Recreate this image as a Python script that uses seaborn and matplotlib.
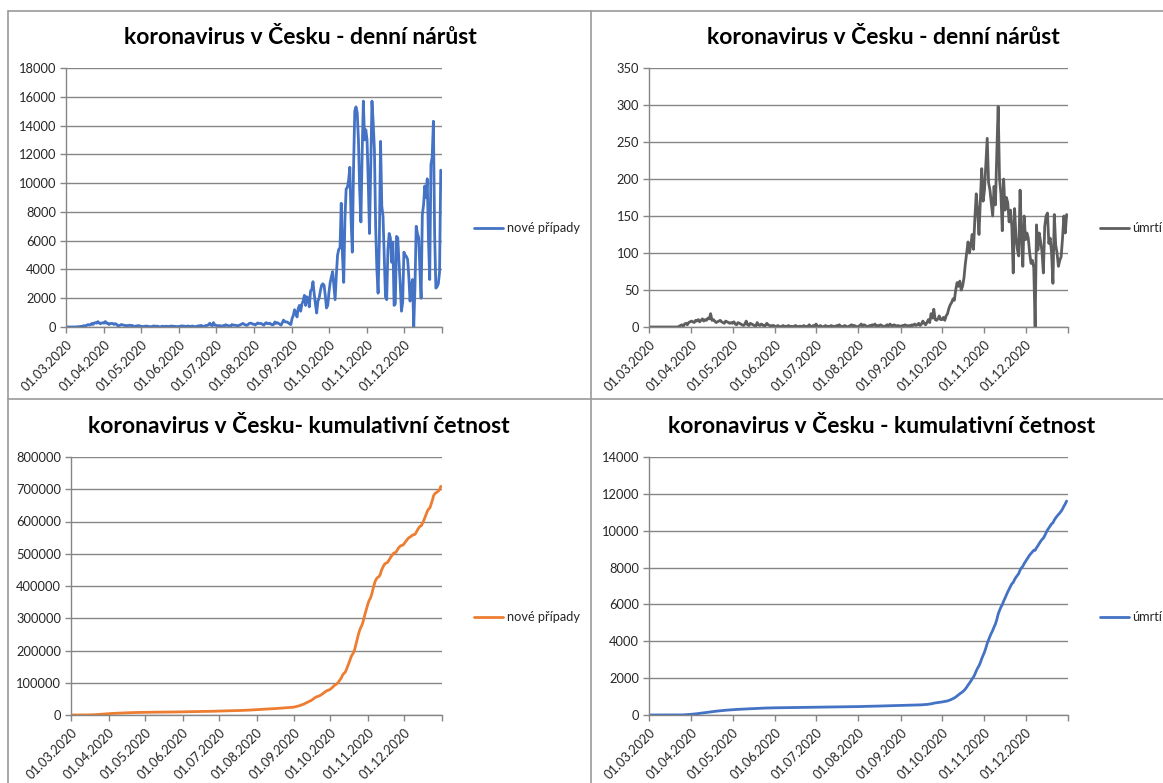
import numpy as np
import pandas as pd
import matplotlib
matplotlib.use("Agg")
import matplotlib.pyplot as plt
from matplotlib.lines import Line2D
import seaborn as sns

# daily values, month by month (01.03.2020 - 31.12.2020)
cases_mar = [3, 0, 2, 0, 3, 7, 7, 7, 6, 9, 26, 22, 45, 38, 84, 86, 67, 128, 168, 138,
             161, 249, 174, 279, 300, 268, 373, 273, 225, 284, 289]
cases_apr = [266, 379, 264, 266, 173, 237, 250, 242, 180, 230, 200, 99, 82, 122, 173, 149, 121, 114, 61, 103,
             101, 130, 94, 106, 60, 29, 74, 86, 92, 81]
cases_may = [43, 40, 27, 52, 69, 59, 44, 26, 30, 17, 74, 65, 53, 60, 43, 13, 5, 53, 49, 42,
             50, 54, 13, 44, 62, 62, 59, 37, 44, 27, 20]
cases_jun = [46, 29, 83, 60, 66, 43, 27, 77, 40, 50, 44, 68, 44, 17, 40, 63, 87, 60, 116, 54,
             38, 81, 105, 102, 168, 260, 138, 92, 305, 125]
cases_jul = [127, 75, 93, 103, 70, 60, 102, 95, 160, 110, 99, 64, 58, 169, 130, 124, 121, 90, 70, 130,
             150, 210, 250, 180, 151, 110, 160, 240, 270, 250, 200]
cases_aug = [190, 140, 210, 280, 250, 240, 240, 180, 120, 250, 300, 230, 240, 260, 180, 140, 180, 350, 250, 300,
             250, 190, 130, 290, 480, 380, 350, 350, 280, 220, 170]
cases_sep = [600, 800, 1200, 1000, 700, 1300, 1500, 1100, 1600, 1800, 2200, 1500, 2100, 2000, 1400, 2500, 2600,
             3150, 2300, 1600, 970, 1800, 2000, 2500, 2900, 3000, 2900, 2200, 1320, 1500]
cases_oct = [2400, 3100, 3500, 3850, 2900, 1900, 3600, 5000, 5400, 5500, 8600, 5000, 3100, 7500, 9600, 9700,
             10200, 11100, 7500, 5200, 11000, 15000, 15300, 14900, 13000, 9500, 7300, 12000, 15700, 13000, 13700]
cases_nov = [13000, 10000, 6500, 11000, 15700, 14200, 12300, 7000, 4000, 2350, 6000, 12900, 8400, 7700, 5000,
             2100, 1900, 5400, 6500, 6200, 4500, 5900, 1500, 1600, 6300, 6200, 4500, 3000, 1100, 1700]
cases_dec = [5200, 5000, 4900, 4700, 3500, 1800, 2900, 3300, 0, 2800, 7000, 6500, 6200, 4000, 2000, 7800,
             8500, 9800, 9000, 10300, 6000, 3300, 11300, 11800, 14300, 6500, 2700, 2800, 3000, 3800, 10900]

deaths_mar = [0, 0, 0, 0, 0, 0, 0, 0, 0, 0, 0, 0, 0, 0, 0, 0, 0, 0, 0, 0, 0, 0, 1, 2, 3, 1, 4, 5, 3, 6, 7]
deaths_apr = [8, 7, 6, 9, 8, 10, 7, 9, 11, 8, 10, 9, 12, 11, 18, 9, 10, 8, 6, 7, 8, 9, 7, 6, 5, 8, 7, 6, 5, 6]
deaths_may = [5, 7, 4, 3, 6, 5, 4, 3, 2, 4, 8, 3, 2, 5, 4, 3, 2, 1, 6, 3, 2, 4, 3, 1, 2, 5, 3, 2, 1, 2, 2]
deaths_jun = [1, 0, 2, 1, 0, 1, 2, 0, 1, 1, 2, 0, 1, 0, 1, 2, 1, 0, 1, 1, 0, 2, 1, 0, 1, 3, 1, 0, 2, 1]
deaths_jul = [4, 1, 0, 2, 1, 0, 1, 2, 0, 1, 0, 2, 1, 1, 0, 2, 1, 3, 1, 0, 1, 2, 1, 0, 1, 2, 3, 1, 2, 1, 0]
deaths_aug = [1, 2, 4, 1, 3, 2, 1, 0, 2, 1, 3, 2, 4, 1, 2, 1, 3, 2, 1, 0, 2, 3, 1, 4, 2, 1, 3, 2, 1, 2, 1]
deaths_sep = [1, 2, 1, 3, 2, 1, 2, 1, 3, 2, 4, 2, 3, 5, 2, 4, 8, 5, 3, 6, 10, 6, 18, 12, 24, 10, 9, 11, 15, 10]
deaths_oct = [10, 13, 9, 15, 18, 25, 30, 33, 38, 36, 50, 60, 55, 62, 50, 55, 66, 85, 100, 115,
              100, 110, 125, 105, 148, 180, 155, 125, 172, 214, 170]
deaths_nov = [185, 220, 255, 195, 185, 168, 150, 190, 165, 235, 298, 200, 180, 130, 200, 158, 175, 168, 142, 158,
              135, 73, 160, 122, 105, 96, 185, 125, 82, 150]
deaths_dec = [118, 127, 120, 100, 86, 90, 80, 0, 138, 104, 127, 115, 102, 73, 136, 150, 154, 113, 120, 100,
              59, 152, 111, 100, 82, 90, 95, 120, 150, 127, 152]

cases = (cases_mar + cases_apr + cases_may + cases_jun + cases_jul + cases_aug
         + cases_sep + cases_oct + cases_nov + cases_dec)
deaths = (deaths_mar + deaths_apr + deaths_may + deaths_jun + deaths_jul + deaths_aug
          + deaths_sep + deaths_oct + deaths_nov + deaths_dec)

df = pd.DataFrame({
    "datum": pd.date_range("2020-03-01", "2020-12-31", freq="D"),
    "nove": cases,
    "umrti": deaths,
})
df["nove_kum"] = df["nove"].cumsum()
df["umrti_kum"] = df["umrti"].cumsum()

sns.set_style("white")
plt.rcParams["font.family"] = ["Lato", "DejaVu Sans"]

W, H = 1163, 783
fig = plt.figure(figsize=(W / 100, H / 100), dpi=100)


def box(x0, y0, x1, y1):
    return [x0 / W, 1 - y1 / H, (x1 - x0) / W, (y1 - y0) / H]


grid_col = "#868686"
month_ticks = pd.date_range("2020-03-01", "2021-01-01", freq="MS")


def panel(rect, col, color, label, ymax, ystep, title, title_xy, leg_xy):
    ax = fig.add_axes(box(*rect))
    sns.lineplot(data=df, x="datum", y=col, ax=ax, color=color, linewidth=2.0, label=label)
    ax.set_xlim(pd.Timestamp("2020-03-01"), pd.Timestamp("2021-01-01"))
    ax.set_ylim(0, ymax)
    ax.set_yticks(np.arange(0, ymax + 1, ystep))
    ax.yaxis.set_major_formatter(matplotlib.ticker.FuncFormatter(lambda v, p: f"{int(v)}"))
    ax.set_xticks(month_ticks)
    ax.set_xticklabels([d.strftime("%d.%m.%Y") for d in month_ticks[:-1]] + [""],
                       rotation=45, ha="right", rotation_mode="anchor")
    ax.set_xlabel("")
    ax.set_ylabel("")
    ax.yaxis.grid(True, color=grid_col, linewidth=1)
    ax.set_axisbelow(True)
    for s in ["top", "right"]:
        ax.spines[s].set_visible(False)
    for s in ["left", "bottom"]:
        ax.spines[s].set_color(grid_col)
        ax.spines[s].set_linewidth(1)
    ax.tick_params(axis="both", which="major", length=4, width=1, color=grid_col,
                   labelsize=9.3, labelcolor="#262626", pad=3, direction="out")
    ax.tick_params(axis="x", pad=4)
    ax.tick_params(left=True, bottom=True)
    ax.legend(loc="center left", bbox_to_anchor=(leg_xy[0] / W, 1 - leg_xy[1] / H),
              bbox_transform=fig.transFigure, frameon=False, fontsize=9.2,
              handlelength=2.3, handletextpad=0.25, borderpad=0, borderaxespad=0,
              labelcolor="#262626")
    fig.text(title_xy[0] / W, 1 - title_xy[1] / H, title, ha="center", va="center",
             fontsize=16.5, fontweight="bold", color="black")
    return ax


panel((66, 68, 442, 327), "nove", "#4472C4", "nové případy", 18000, 2000,
      "koronavirus v Česku - denní nárůst", (300, 37), (474, 228))
panel((649, 68, 1068, 327), "umrti", "#5E5E5E", "úmrtí", 350, 50,
      "koronavirus v Česku - denní nárůst", (883, 37), (1100, 228))
panel((71, 457, 442, 715), "nove_kum", "#ED7D31", "nové případy", 800000, 100000,
      "koronavirus v Česku- kumulativní četnost", (299, 426), (474, 617))
panel((649, 457, 1068, 715), "umrti_kum", "#4472C4", "úmrtí", 14000, 2000,
      "koronavirus v Česku - kumulativní četnost", (882, 426), (1100, 617))

# chart area borders like the spreadsheet panels
border = "#9a9a9a"
for x0, y0, x1, y1 in [(8, 10.5, W, 10.5), (8, 399, W, 399), (8.3, 10.5, 8.3, H), (591, 10.5, 591, H)]:
    fig.add_artist(Line2D([x0 / W, x1 / W], [1 - y0 / H, 1 - y1 / H], color=border, linewidth=1.2))

fig.savefig("out.png", dpi=100, facecolor="white")
